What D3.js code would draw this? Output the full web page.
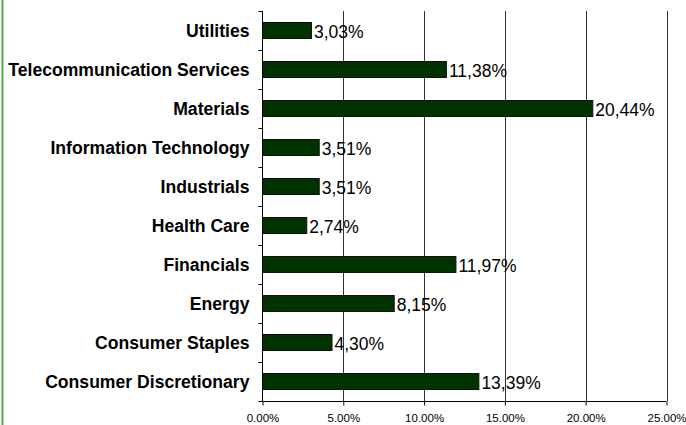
<!DOCTYPE html>
<html>
<head>
<meta charset="utf-8">
<script src="https://cdn.jsdelivr.net/npm/d3@7"></script>
<style>
  body { margin: 0; background: #fff; }
  svg { display: block; font-family: Arial, "Liberation Sans", sans-serif; }
</style>
</head>
<body>
<svg id="chart" width="686" height="425"></svg>
<script>
// data, top to bottom
const sectors = ["Utilities", "Telecommunication Services", "Materials", "Information Technology",
  "Industrials", "Health Care", "Financials", "Energy", "Consumer Staples", "Consumer Discretionary"];
const weights = [3.03, 11.38, 20.44, 3.51, 3.51, 2.74, 11.97, 8.15, 4.30, 13.39];
const xTicks = [0, 5, 10, 15, 20, 25];

const svg = d3.select("#chart");
const width = 686, height = 425;

const marginTop = 11;
const marginLeft = 262.5;
const plotRight = 666.5;
const plotBottom = 401;

const x = d3.scaleLinear().domain([0, 25]).range([marginLeft, plotRight]);
const y = d3.scaleBand().domain(sectors).range([marginTop, plotBottom]).paddingInner(0.59).paddingOuter(0.295);

// green left border
svg.append("line")
  .attr("x1", 2.5).attr("x2", 2.5)
  .attr("y1", 0).attr("y2", height)
  .attr("stroke", "#4cae45")
  .attr("stroke-width", 2);

// vertical grid lines
svg.append("g")
  .selectAll("line")
  .data(xTicks.slice(1))
  .join("line")
    .attr("x1", d => Math.round(x(d)) + 0.5)
    .attr("x2", d => Math.round(x(d)) + 0.5)
    .attr("y1", marginTop)
    .attr("y2", plotBottom)
    .attr("stroke", "#333")
    .attr("stroke-width", 1);

// bars
svg.append("g")
  .selectAll("rect")
  .data(sectors)
  .join("rect")
    .attr("x", x(0))
    .attr("y", d => y(d))
    .attr("width", (d, i) => x(weights[i]) - x(0))
    .attr("height", y.bandwidth())
    .attr("fill", "#013301")
    .attr("stroke", "#111")
    .attr("stroke-width", 1);

// value labels
svg.append("g")
  .selectAll("text")
  .data(sectors)
  .join("text")
    .attr("x", (d, i) => x(weights[i]) + 2.5)
    .attr("y", d => y(d) + y.bandwidth() / 2 + 1)
    .attr("dy", "0.36em")
    .attr("font-size", 17.5)
    .attr("fill", "#000")
    .text((d, i) => weights[i].toFixed(2).replace(".", ",") + "%");

// y axis (categories)
const yAxisLine = d3.scaleBand().domain(sectors).range([marginTop, plotBottom]);
svg.append("g")
  .attr("transform", `translate(${marginLeft},1)`)
  .call(d3.axisLeft(y).tickSize(0).tickPadding(13))
  .call(g => g.select(".domain").remove())
  .call(g => g.selectAll("text")
    .attr("font-size", 17.6)
    .attr("font-weight", "bold")
    .attr("font-family", "Arial, 'Liberation Sans', sans-serif")
    .attr("fill", "#000"));

// y axis line + tick marks between categories
svg.append("line")
  .attr("x1", marginLeft).attr("x2", marginLeft)
  .attr("y1", marginTop).attr("y2", plotBottom)
  .attr("stroke", "#000");
svg.append("g")
  .selectAll("line")
  .data(sectors.concat(["_end"]))
  .join("line")
    .attr("x1", marginLeft - 4).attr("x2", marginLeft)
    .attr("y1", (d, i) => i < sectors.length ? yAxisLine(d) + 0.5 : plotBottom + 0.5)
    .attr("y2", (d, i) => i < sectors.length ? yAxisLine(d) + 0.5 : plotBottom + 0.5)
    .attr("stroke", "#000");

// x axis
svg.append("g")
  .attr("transform", `translate(0,${plotBottom + 0.5})`)
  .call(d3.axisBottom(x).tickValues(xTicks).tickSize(4).tickPadding(8)
    .tickFormat(d => d.toFixed(2) + "%"))
  .call(g => g.select(".domain").attr("stroke", "#000").attr("d", `M${marginLeft},0H${plotRight}`))
  .call(g => g.selectAll(".tick line").attr("stroke", "#000"))
  .call(g => g.selectAll("text")
    .attr("font-size", 11.5)
    .attr("font-family", "Arial, 'Liberation Sans', sans-serif")
    .attr("fill", "#000"));
</script>
</body>
</html>
